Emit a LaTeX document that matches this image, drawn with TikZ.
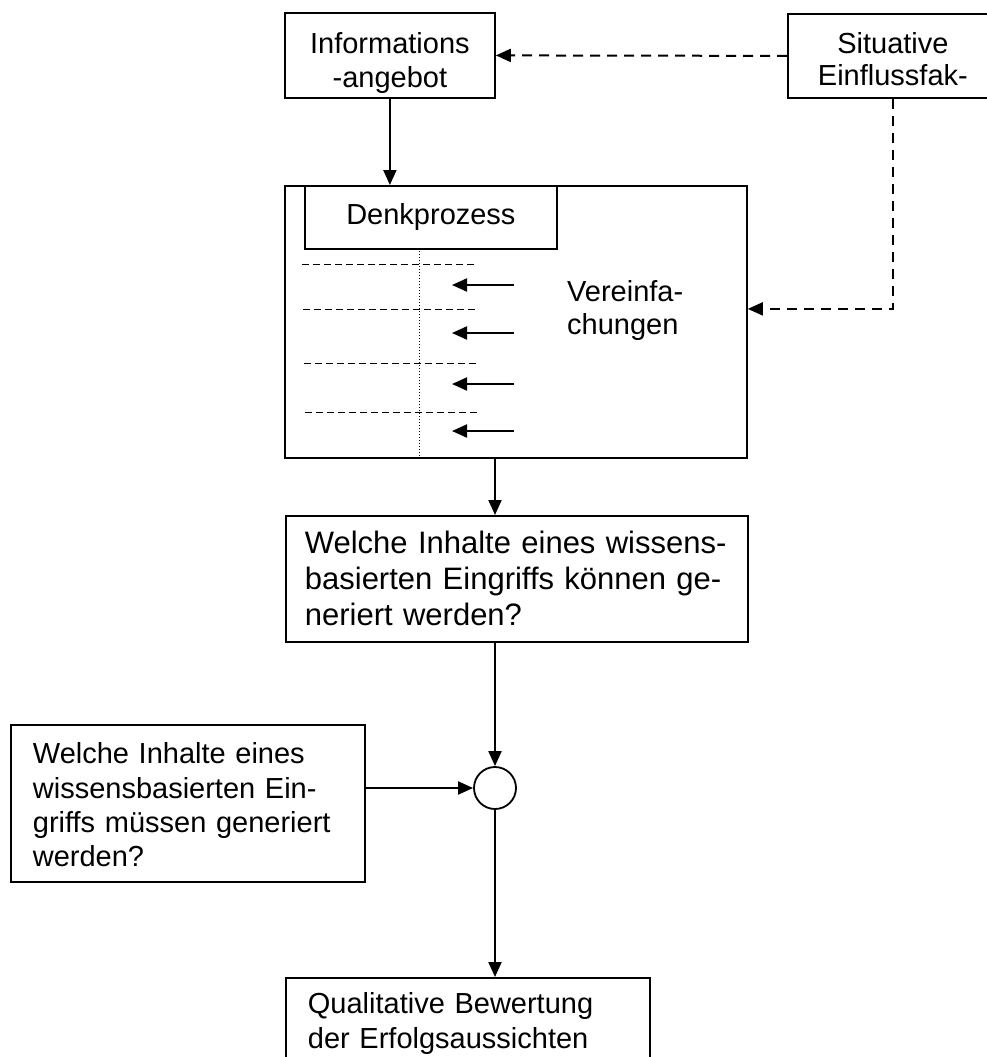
\documentclass[tikz,border=0pt]{standalone}
\usepackage{fontspec}
\setmainfont{Liberation Sans}
\usepackage{tikz}
\usetikzlibrary{arrows.meta}
\usetikzlibrary{positioning}
\tikzset{kasten/.style={draw, line width=1.8pt, inner ysep=0pt, anchor=north west, font=\fontsize{29}{34}\selectfont}}
\tikzset{pfeil/.style={-{Triangle[length=15pt,width=13pt]}, line width=2pt}}
\tikzset{strich/.style={pfeil, dash pattern=on 10pt off 7pt}}
\tikzset{trenner/.style={line width=1pt, dash pattern=on 6.5pt off 4.5pt}}

\begin{document}
\begin{tikzpicture}[x=1pt, y=-1pt]
\fill[white] (0,0) rectangle (987,1057);
\useasboundingbox (0,0) rectangle (987,1057);
\node[kasten, text width=210pt, align=center, inner xsep=0pt, text height=41pt, text depth=44pt] (info) at (284,12) {Informations\\-angebot};
\node[kasten, text width=210pt, align=center, inner xsep=0pt, text height=40pt, text depth=44pt, font=\fontsize{29}{32}\selectfont] (situ) at (787,13) {Situative\\Einflussfak-};
\node[kasten, minimum width=462pt, minimum height=272pt] (denk) at (284,185) {};
\node[kasten, text width=252pt, align=center, inner xsep=0pt, text height=39pt, text depth=24pt] (proz) at (304,185) {Denkprozess};
\node[text width=150pt, align=left, inner sep=0pt, anchor=base west, font=\fontsize{29}{33}\selectfont] (vereinf) at (567,301) {Vereinfa-\\chungen};
\node[kasten, text width=424pt, align=left, inner xsep=19pt, text height=38pt, text depth=88pt, font=\fontsize{31}{36}\selectfont] (kann) at (285,515) {Welche Inhalte eines wissens-\\basierten Eingriffs können ge-\\neriert werden?};
\node[kasten, text width=310pt, align=left, inner xsep=22pt, text height=39pt, text depth=118pt, font=\fontsize{29}{34.3}\selectfont] (muss) at (10,724) {Welche Inhalte eines\\wissensbasierten Ein-\\griffs müssen generiert\\werden?};
\node[draw, circle, line width=1.8pt, minimum size=42pt, inner sep=0pt] (verkn) at (495,788) {};
\node[kasten, text width=320pt, align=left, inner xsep=22pt, text height=36pt, text depth=90pt, font=\fontsize{29}{35}\selectfont] (bewert) at (285,977) {Qualitative Bewertung\\der Erfolgsaussichten};

\draw[line width=1pt, dash pattern=on 1pt off 2pt] (419,248) -- (419,457);
\draw[trenner] (302,264) -- (477,264);
\draw[trenner] (303,309) -- (478,309);
\draw[trenner] (304,363) -- (479,363);
\draw[trenner] (305,412) -- (481,412);
\draw[pfeil] (514,285) -- (452,285);
\draw[pfeil] (514,333) -- (452,333);
\draw[pfeil] (514,384) -- (452,384);
\draw[pfeil] (514,431) -- (452,431);

\draw[strich] (situ.west) -- (info.east);
\draw[strich] (situ.south) |- ([yshift=13pt]denk.east);
\draw[pfeil] (info.south) -- (info.south |- denk.north);
\draw[pfeil] (verkn |- denk.south) -- (verkn |- kann.north);
\draw[pfeil] (verkn |- kann.south) -- (verkn.north);
\draw[pfeil] (muss.east |- verkn) -- (verkn.west);
\draw[pfeil] (verkn.south) -- (verkn |- bewert.north);
\end{tikzpicture}
\end{document}
